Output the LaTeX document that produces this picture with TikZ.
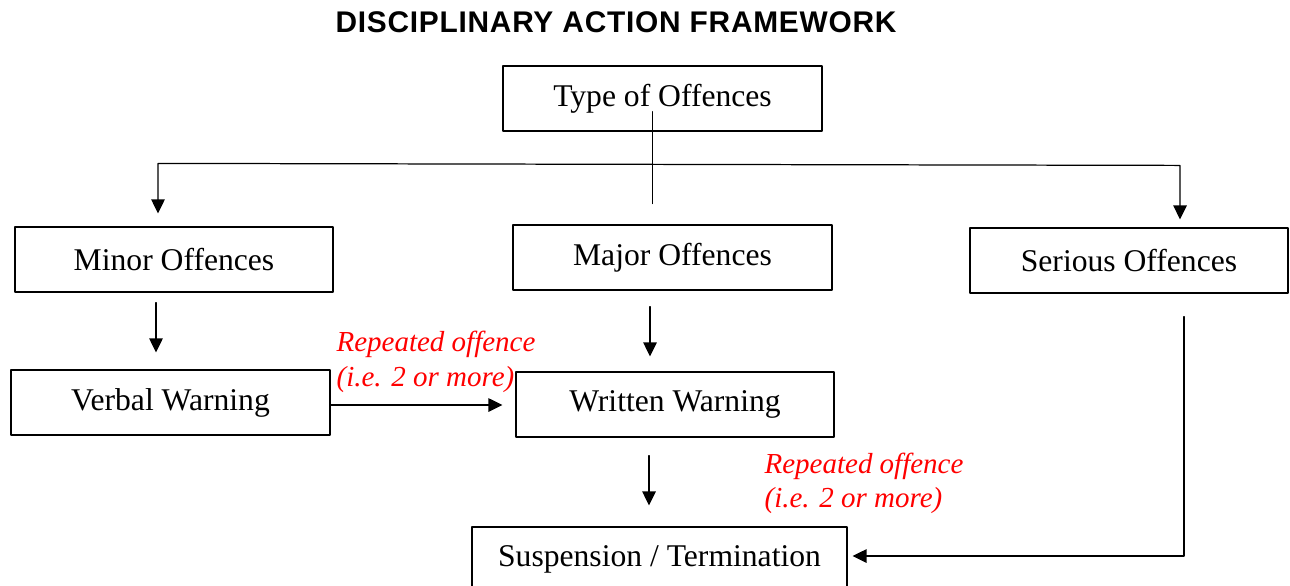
\documentclass[tikz,border=0pt]{standalone}
\usepackage{fontspec}
\setmainfont{Liberation Serif}
\newfontfamily\titlefont{Liberation Sans}[LetterSpace=2.5]
\usepackage{xcolor}
\usetikzlibrary{arrows.meta,calc}

\begin{document}
\begin{tikzpicture}[line cap=round,line join=round,>={Triangle[length=0.28cm,width=0.27cm]},x=0.02cm,y=-0.02cm,
    box/.style={draw,line width=0.7pt,minimum width=6.36cm,minimum height=1.3cm,inner sep=0pt,font=\fontsize{18}{21}\selectfont},
    note/.style={anchor=west,align=left,inner sep=0pt,text=red,font=\fontsize{16.5}{19.5}\selectfont\itshape},
    every path/.style={line width=0.7pt}]
                        \useasboundingbox (0,0) rectangle (1290,585);
                        \node (title) at (616,22) {\titlefont\bfseries\fontsize{17}{20}\selectfont DISCIPLINARY ACTION FRAMEWORK};
                        \node[box,minimum width=6.38cm] (type) at (662.5,98.5) {Type of Offences};
                        \node[box] (minor) at (174,259.5) {Minor Offences};
                        \node[box,minimum width=6.38cm] (major) at (672.5,257.5) {Major Offences};
                        \node[box] (serious) at (1129,260.5) {Serious Offences};
                        \node[box,minimum width=6.38cm] (verbal) at (170.5,402.5) {Verbal Warning};
                        \node[box] (written) at (675,404.5) {Written Warning};
                        \node[box,minimum width=7.5cm] (susp) at (659.5,559.5) {Suspension / Termination};
                        \node[note] (rep1) at (336,362) {Repeated offence\\(i.e. 2 or more)};
                        \node[note] (rep2) at (764,483) {Repeated offence\\(i.e. 2 or more)};
                        \coordinate (busL) at ($(minor.north)+(-16,-63)$);
                        \coordinate (busR) at ($(serious.north)+(51,-62)$);
                        \draw ($(type.south)+(-10,-20)$) -- ($(type.south)+(-10,72)$);
                        \draw[<->] ($(minor.north)+(-16,-13)$) -- (busL) -- (busR) -- ($(serious.north)+(51,-8)$);
                        \draw[->] ($(minor.south)+(-18,10)$) -- ($(verbal.north)+(-14.5,-17)$);
                        \draw[->] ($(major.south)+(-22.5,16)$) -- ($(written.north)+(-25,-15)$);
                        \draw[->] ($(verbal.east)+(0,2.5)$) -- ($(written.west)+(-13,0.5)$);
                        \draw[->] ($(written.south)+(-26,18)$) -- ($(susp.north)+(-10.5,-21)$);
                        \draw[->] ($(serious.south)+(55,23)$) |- ($(susp.east)+(5,-3.5)$);
                    \end{tikzpicture}
\end{document}
